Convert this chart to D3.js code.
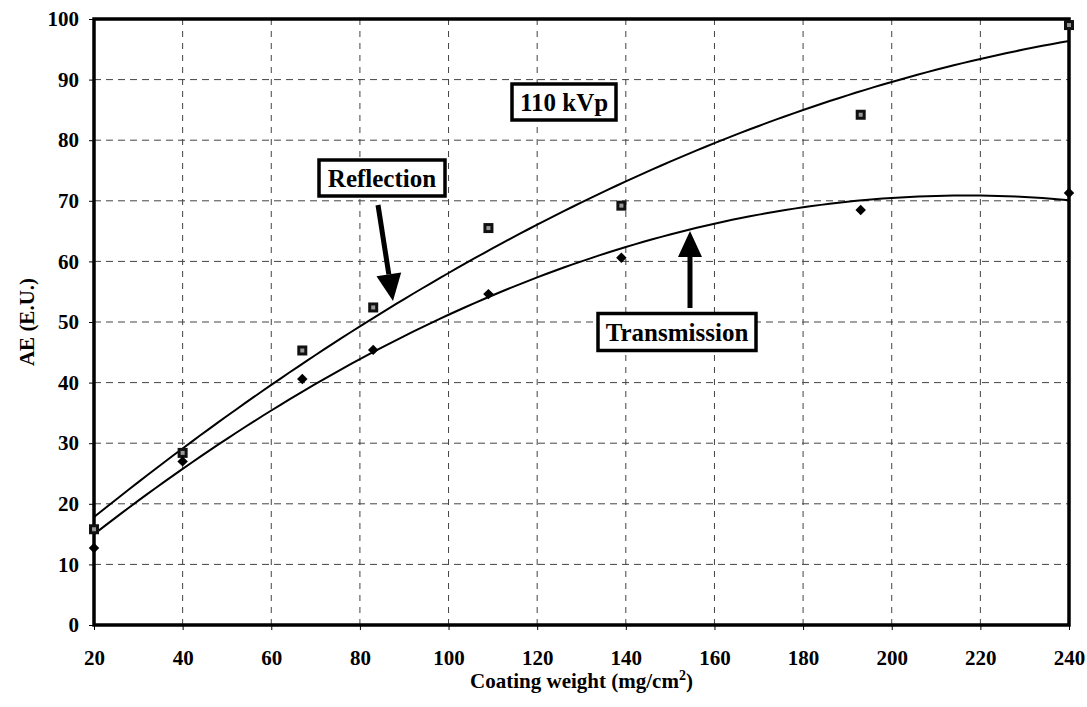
<!DOCTYPE html>
<html>
<head>
<meta charset="utf-8">
<script src="https://cdn.jsdelivr.net/npm/d3@7"></script>
<style>
  body { margin: 0; background: #fff; }
</style>
</head>
<body>
<svg id="chart" width="1087" height="707"></svg>
<script>
// Coating weight (mg/cm2)
const coatingWeight = [20, 40, 67, 83, 109, 139, 193, 240]
// AE (E.U.) measured values
const reflection = [15.8, 28.4, 45.3, 52.4, 65.5, 69.2, 84.2, 99.0]
const transmission = [12.7, 27.0, 40.6, 45.4, 54.6, 60.6, 68.5, 71.3]

const xTicks = [20, 40, 60, 80, 100, 120, 140, 160, 180, 200, 220, 240]
const yTicks = [0, 10, 20, 30, 40, 50, 60, 70, 80, 90, 100]

const FONT = '"Liberation Serif", "Times New Roman", "DejaVu Serif", serif'

const svg = d3.select('#chart')
const margin = { left: 94, right: 18, top: 19, bottom: 82 }
const width = 1087, height = 707

const x = d3.scaleLinear().domain([20, 240]).range([margin.left, width - margin.right])
const y = d3.scaleLinear().domain([0, 100]).range([height - margin.bottom, margin.top])

// 2nd order polynomial trendline (least squares), like the spreadsheet fit
function quadFit(xs, ys) {
  let s = [0, 0, 0, 0, 0], t = [0, 0, 0]
  xs.forEach((xv, i) => {
    for (let k = 0; k < 5; k++) s[k] += Math.pow(xv, k)
    for (let k = 0; k < 3; k++) t[k] += ys[i] * Math.pow(xv, k)
  })
  const m = [[s[0], s[1], s[2], t[0]], [s[1], s[2], s[3], t[1]], [s[2], s[3], s[4], t[2]]]
  for (let c = 0; c < 3; c++) {
    for (let r = c + 1; r < 3; r++) {
      const f = m[r][c] / m[c][c]
      for (let k = c; k < 4; k++) m[r][k] -= f * m[c][k]
    }
  }
  const b = [0, 0, 0]
  for (let r = 2; r >= 0; r--) {
    let v = m[r][3]
    for (let k = r + 1; k < 3; k++) v -= m[r][k] * b[k]
    b[r] = v / m[r][r]
  }
  return xv => b[0] + b[1] * xv + b[2] * xv * xv
}

// Grid
const grid = svg.append('g').attr('class', 'grid')
grid.selectAll('line.h')
  .data(yTicks.slice(1, -1))
  .enter().append('line')
  .attr('x1', x(20)).attr('x2', x(240))
  .attr('y1', d => y(d)).attr('y2', d => y(d))
  .attr('stroke', '#444').attr('stroke-width', 1).attr('stroke-dasharray', '7,5')
grid.selectAll('line.v')
  .data(xTicks.slice(1, -1))
  .enter().append('line')
  .attr('y1', y(0)).attr('y2', y(100))
  .attr('x1', d => x(d)).attr('x2', d => x(d))
  .attr('stroke', '#444').attr('stroke-width', 1).attr('stroke-dasharray', '6,6')

// Axes
const xAxis = svg.append('g')
  .attr('transform', `translate(0,${y(0)})`)
  .call(d3.axisBottom(x).tickValues(xTicks).tickSize(5).tickPadding(16))
const yAxis = svg.append('g')
  .attr('transform', `translate(${x(20)},0)`)
  .call(d3.axisLeft(y).tickValues(yTicks).tickSize(5).tickPadding(10))
;[xAxis, yAxis].forEach(a => {
  a.attr('font-family', FONT).attr('font-size', 21).attr('font-weight', 'bold')
  a.select('.domain').remove()
  a.selectAll('.tick line').attr('stroke', '#000')
  a.selectAll('.tick text').attr('fill', '#000')
})
xAxis.selectAll('.tick text').attr('dy', '0.9em')

// Plot frame
svg.append('rect')
  .attr('x', x(20)).attr('y', y(100))
  .attr('width', x(240) - x(20)).attr('height', y(0) - y(100))
  .attr('fill', 'none').attr('stroke', '#000').attr('stroke-width', 3.5)

// Trendlines
const curveXs = d3.range(20, 240.5, 2)
const line = d3.line().x(d => x(d[0])).y(d => y(d[1]))
;[reflection, transmission].forEach(vals => {
  const f = quadFit(coatingWeight, vals)
  svg.append('path')
    .datum(curveXs.map(v => [v, f(v)]))
    .attr('d', line)
    .attr('fill', 'none').attr('stroke', '#000').attr('stroke-width', 2)
})

// Markers
const pts = svg.append('g')
coatingWeight.forEach((cw, i) => {
  pts.append('rect')
    .attr('x', x(cw) - 5).attr('y', y(reflection[i]) - 5)
    .attr('width', 10).attr('height', 10).attr('fill', '#111')
  pts.append('rect')
    .attr('x', x(cw) - 2).attr('y', y(reflection[i]) - 2)
    .attr('width', 4).attr('height', 4).attr('fill', '#999')
  pts.append('path')
    .attr('d', d3.symbol(d3.symbolDiamond2, 70)())
    .attr('transform', `translate(${x(cw)},${y(transmission[i])})`)
    .attr('fill', '#000')
})

// Labelled boxes
function box(cx, cy, w, h, label, size) {
  svg.append('rect')
    .attr('x', cx - w / 2).attr('y', cy - h / 2).attr('width', w).attr('height', h)
    .attr('fill', '#fff').attr('stroke', '#000').attr('stroke-width', 3.5)
  svg.append('text')
    .attr('x', cx).attr('y', cy).attr('dy', '0.35em')
    .attr('text-anchor', 'middle')
    .attr('font-family', FONT).attr('font-weight', 'bold').attr('font-size', size)
    .text(label)
}
box(564, 102, 104, 36, '110 kVp', 25)
box(382, 178, 126, 36, 'Reflection', 25)
box(677, 332, 158, 37, 'Transmission', 25)

// Arrows
function arrow(x1, y1, x2, y2, headLen, headW) {
  const ang = Math.atan2(y2 - y1, x2 - x1)
  const bx = x2 - headLen * Math.cos(ang), by = y2 - headLen * Math.sin(ang)
  svg.append('line')
    .attr('x1', x1).attr('y1', y1).attr('x2', bx).attr('y2', by)
    .attr('stroke', '#000').attr('stroke-width', 5)
  const px = -Math.sin(ang) * headW / 2, py = Math.cos(ang) * headW / 2
  svg.append('path')
    .attr('d', `M${x2},${y2}L${bx + px},${by + py}L${bx - px},${by - py}Z`)
    .attr('fill', '#000')
}
arrow(378, 205, 393, 301, 27, 25)
arrow(690, 308, 690, 231, 26, 24)

// Axis titles
svg.append('text')
  .attr('transform', `translate(34,${y(50)}) rotate(-90)`)
  .attr('text-anchor', 'middle')
  .attr('font-family', FONT).attr('font-weight', 'bold').attr('font-size', 21)
  .text('AE (E.U.)')

const xt = svg.append('text')
  .attr('x', x(130)).attr('y', 688)
  .attr('text-anchor', 'middle')
  .attr('font-family', FONT).attr('font-weight', 'bold').attr('font-size', 21)
xt.append('tspan').text('Coating weight (mg/cm')
xt.append('tspan').attr('dy', -8).attr('font-size', 14).text('2')
xt.append('tspan').attr('dy', 8).text(')')
</script>
</body>
</html>
